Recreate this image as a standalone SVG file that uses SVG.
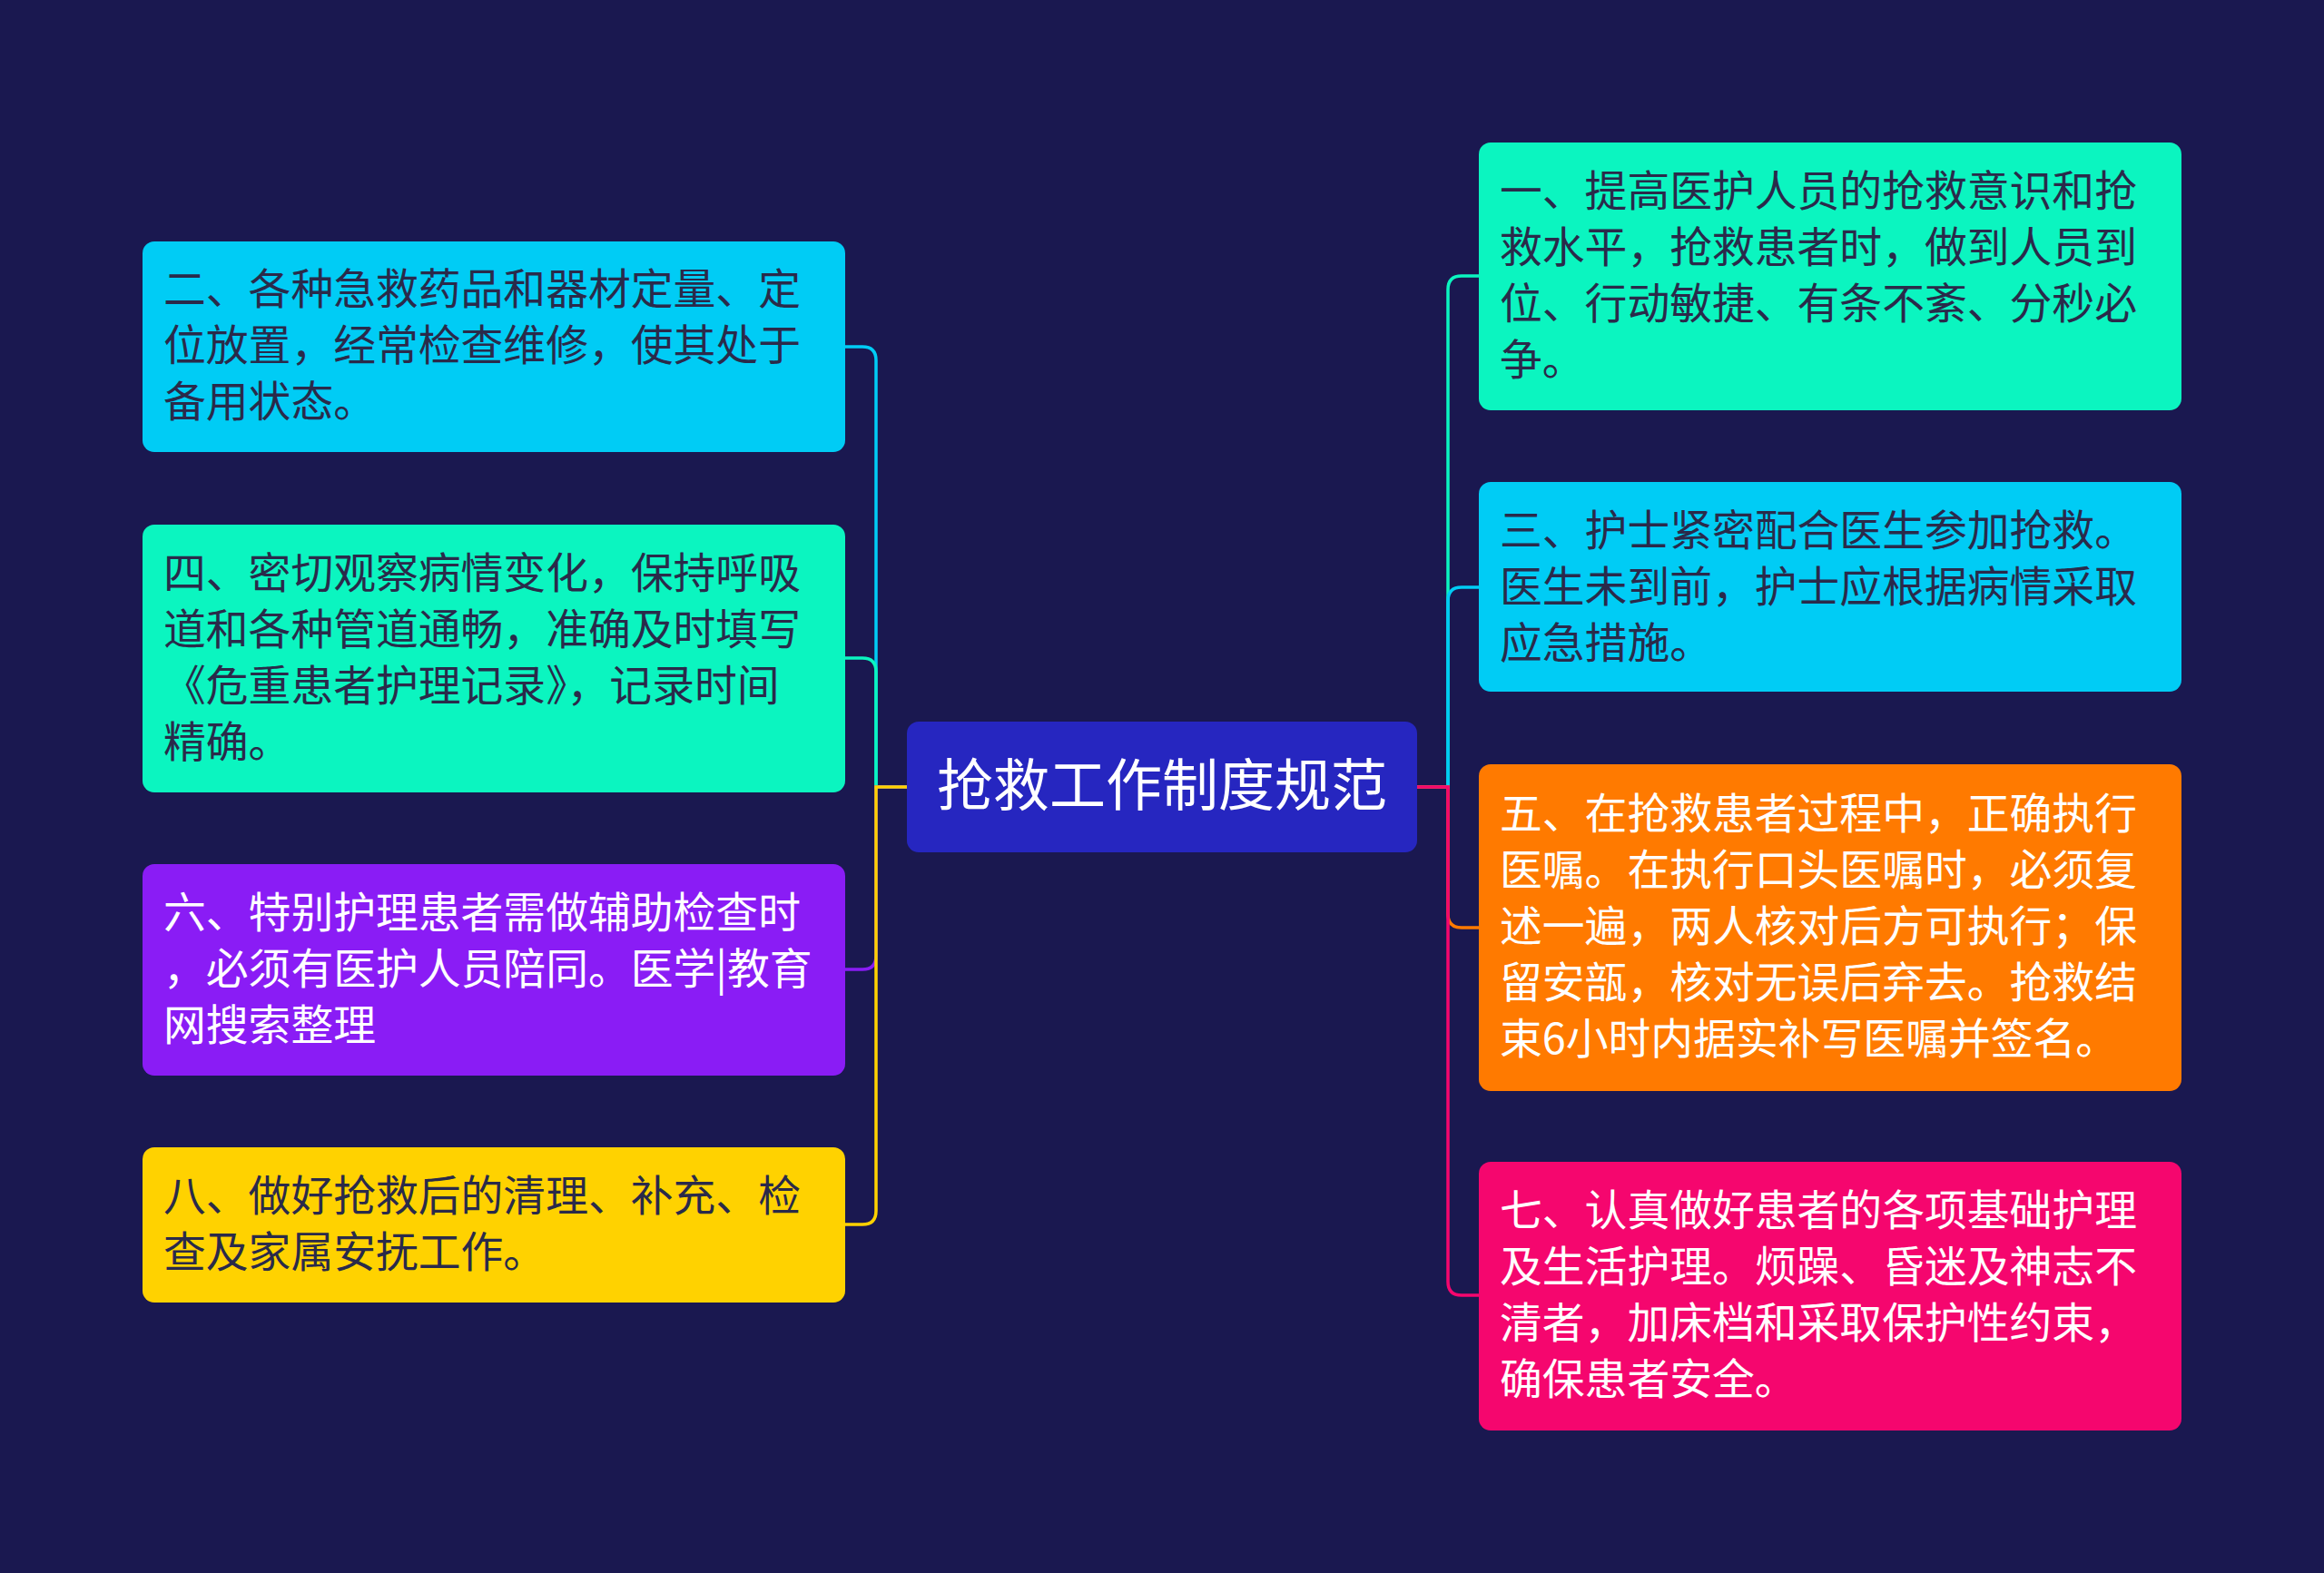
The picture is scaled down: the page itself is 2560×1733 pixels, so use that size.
<svg xmlns="http://www.w3.org/2000/svg" width="2560" height="1733" viewBox="0 0 2560 1733">
<style>
text{font-family:"Noto Sans CJK SC","Noto Sans",sans-serif;font-size:46.8px}
.d{fill:#2a2a4a}.w{fill:#ffffff}
.c{fill:none;stroke-width:3.5}
</style>
<rect width="2560" height="1733" fill="#1A1850"/>
<g id="connectors">
<path class="c" stroke="#00CCF5" d="M999 867H965V397Q965 382 950 382H931"/>
<path class="c" stroke="#0BF5C0" d="M999 867H965V740Q965 725 950 725H931"/>
<path class="c" stroke="#8A1CF5" d="M999 867H965V1053Q965 1068 950 1068H931"/>
<path class="c" stroke="#FFD200" d="M999 867H965V1334Q965 1349 950 1349H931"/>
<path class="c" stroke="#0BF5C0" d="M1561 867H1595V319Q1595 304 1610 304H1629"/>
<path class="c" stroke="#00CCF5" d="M1561 867H1595V662Q1595 647 1610 647H1629"/>
<path class="c" stroke="#FF7A00" d="M1561 867H1595V1007Q1595 1022 1610 1022H1629"/>
<path class="c" stroke="#F5066E" d="M1561 867H1595V1412Q1595 1427 1610 1427H1629"/>
</g>
<g id="center"><rect x="999" y="795" width="562" height="144" rx="13" fill="#2626C0"/>
<text x="1280" y="888" class="w" style="font-size:62px" text-anchor="middle">抢救工作制度规范</text></g>
<g id="l1"><rect x="157" y="266" width="774" height="232" rx="13" fill="#00CCF5"/>
<text class="d" x="180" y="335">二、各种急救药品和器材定量、定</text><text class="d" x="180" y="397">位放置，经常检查维修，使其处于</text><text class="d" x="180" y="459">备用状态。</text></g>
<g id="l2"><rect x="157" y="578" width="774" height="295" rx="13" fill="#0BF5C0"/>
<text class="d" x="180" y="648">四、密切观察病情变化，保持呼吸</text><text class="d" x="180" y="710">道和各种管道通畅，准确及时填写</text><text class="d" x="180" y="772">《危重患者护理记录》，记录时间</text><text class="d" x="180" y="834">精确。</text></g>
<g id="l3"><rect x="157" y="952" width="774" height="233" rx="13" fill="#8A1CF5"/>
<text class="w" x="180" y="1022">六、特别护理患者需做辅助检查时</text><text class="w" x="180" y="1084">，必须有医护人员陪同。医学|教育</text><text class="w" x="180" y="1146">网搜索整理</text></g>
<g id="l4"><rect x="157" y="1264" width="774" height="171" rx="13" fill="#FFD200"/>
<text class="d" x="180" y="1334">八、做好抢救后的清理、补充、检</text><text class="d" x="180" y="1396">查及家属安抚工作。</text></g>
<g id="r1"><rect x="1629" y="157" width="774" height="295" rx="13" fill="#0BF5C0"/>
<text class="d" x="1652" y="227">一、提高医护人员的抢救意识和抢</text><text class="d" x="1652" y="289">救水平，抢救患者时，做到人员到</text><text class="d" x="1652" y="351">位、行动敏捷、有条不紊、分秒必</text><text class="d" x="1652" y="413">争。</text></g>
<g id="r2"><rect x="1629" y="531" width="774" height="231" rx="13" fill="#00CCF5"/>
<text class="d" x="1652" y="601">三、护士紧密配合医生参加抢救。</text><text class="d" x="1652" y="663">医生未到前，护士应根据病情采取</text><text class="d" x="1652" y="725">应急措施。</text></g>
<g id="r3"><rect x="1629" y="842" width="774" height="360" rx="13" fill="#FF7A00"/>
<text class="w" x="1652" y="913">五、在抢救患者过程中，正确执行</text><text class="w" x="1652" y="975">医嘱。在执行口头医嘱时，必须复</text><text class="w" x="1652" y="1037">述一遍，两人核对后方可执行；保</text><text class="w" x="1652" y="1099">留安瓿，核对无误后弃去。抢救结</text><text class="w" x="1652" y="1161">束6小时内据实补写医嘱并签名。</text></g>
<g id="r4"><rect x="1629" y="1280" width="774" height="296" rx="13" fill="#F5066E"/>
<text class="w" x="1652" y="1350">七、认真做好患者的各项基础护理</text><text class="w" x="1652" y="1412">及生活护理。烦躁、昏迷及神志不</text><text class="w" x="1652" y="1474">清者，加床档和采取保护性约束，</text><text class="w" x="1652" y="1536">确保患者安全。</text></g>
</svg>
